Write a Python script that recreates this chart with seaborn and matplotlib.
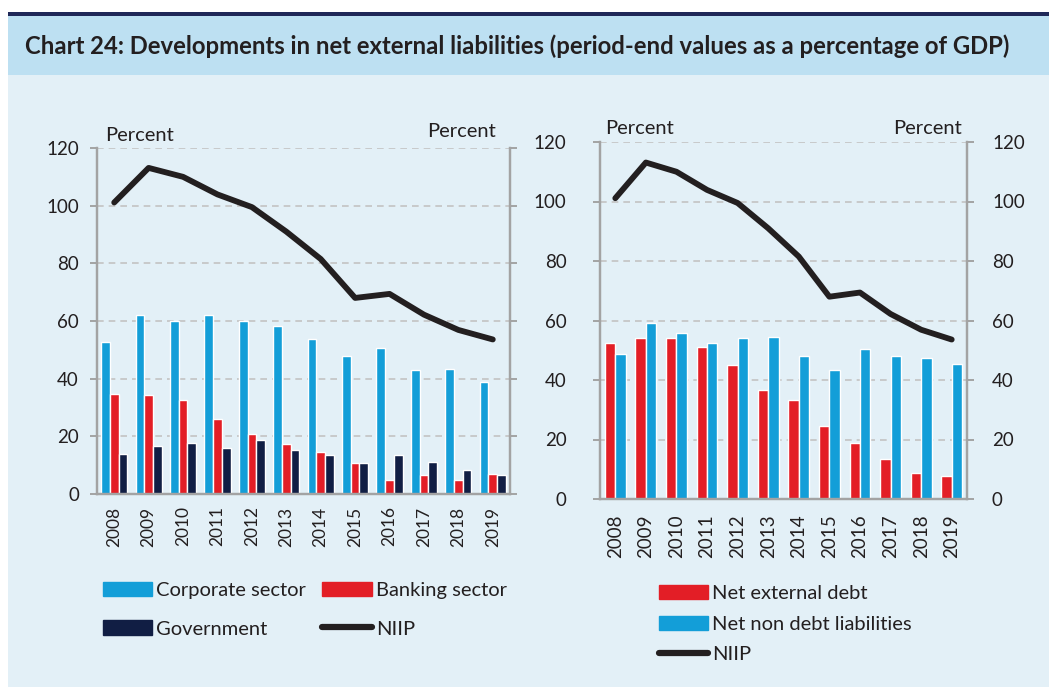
import numpy as np
import pandas as pd
import seaborn as sns
import matplotlib.pyplot as plt
from matplotlib.patches import Rectangle, Patch
from matplotlib.lines import Line2D

years = ['2008', '2009', '2010', '2011', '2012', '2013',
         '2014', '2015', '2016', '2017', '2018', '2019']
corporate = [52.6, 62.2, 59.9, 62.0, 60.0, 58.2, 53.9, 47.8, 50.5, 43.1, 43.4, 38.8]
banking = [34.6, 34.3, 32.5, 25.9, 20.8, 17.2, 14.5, 10.6, 5.0, 6.7, 4.7, 6.8]
government = [14.0, 16.6, 17.6, 15.8, 18.6, 15.4, 13.4, 10.6, 13.4, 11.2, 8.3, 6.5]
net_debt = [52.6, 54.2, 54.0, 51.1, 45.2, 36.5, 33.2, 24.5, 18.8, 13.6, 8.8, 7.6]
net_non_debt = [48.8, 59.0, 55.8, 52.4, 54.1, 54.3, 47.9, 43.3, 50.3, 48.1, 47.5, 45.5]
niip = [101.1, 113.1, 110.0, 103.9, 99.5, 91.0, 81.5, 68.0, 69.4, 62.2, 56.9, 53.6]

BLUE = '#139ed8'
RED = '#e31e26'
NAVY = '#111e44'
BLACK = '#231f20'
BG = '#e3f0f7'
BAND = '#bde0f2'
SPINE = '#a3a3a3'

sns.set_theme(style='white')
plt.rcParams['font.family'] = ['Lato', 'DejaVu Sans']
plt.rcParams['text.color'] = '#231f20'
plt.rcParams['xtick.color'] = '#231f20'
plt.rcParams['ytick.color'] = '#231f20'

W, H = 1049, 687
fig = plt.figure(figsize=(W / 100, H / 100), dpi=100, facecolor='white')

# background pieces
fig.patches.append(Rectangle((8 / W, 0), 1 - 8 / W, 1 - 75 / H, transform=fig.transFigure,
                             facecolor=BG, edgecolor='none', zorder=-10))
fig.patches.append(Rectangle((8 / W, 1 - 75 / H), 1 - 8 / W, 60 / H, transform=fig.transFigure,
                             facecolor=BAND, edgecolor='none', zorder=-10))
fig.patches.append(Rectangle((8 / W, 1 - 15.5 / H), 1 - 8 / W, 3 / H, transform=fig.transFigure,
                             facecolor='#1f2858', edgecolor='none', zorder=-10))
fig.text(25 / W, 1 - 46 / H,
         'Chart 24: Developments in net external liabilities (period-end values as a percentage of GDP)',
         fontsize=17.2, fontweight='bold', ha='left', va='center')


def style_axes(ax, ax2):
    for a in (ax, ax2):
        a.set_facecolor('none')
        a.set_ylim(0, 120)
        a.set_yticks(range(0, 121, 20))
        a.spines['top'].set_visible(False)
        for s in ('left', 'right', 'bottom'):
            a.spines[s].set_color(SPINE)
            a.spines[s].set_linewidth(1.6)
        a.tick_params(axis='y', length=5, width=1.4, color=SPINE, labelsize=13.5)
    ax.set_xlim(-0.5, 11.5)
    ax2.set_xlim(-0.5, 11.5)
    ax.yaxis.grid(True, linestyle=(0, (4, 3)), color='#c3c3c3', linewidth=1.2)
    ax.set_axisbelow(True)
    ax.set_xlabel('')
    ax.set_ylabel('')
    ax2.set_ylabel('')


# ---- left panel
ax = fig.add_axes([97 / W, 1 - 494 / H, 413 / W, 346 / H])
left_df = pd.DataFrame({'year': years * 3,
                        'value': corporate + banking + government,
                        'series': ['Corporate sector'] * 12 + ['Banking sector'] * 12 + ['Government'] * 12})
sns.barplot(data=left_df, x='year', y='value', hue='series', ax=ax, width=0.76, saturation=1,
            palette={'Corporate sector': BLUE, 'Banking sector': RED, 'Government': NAVY},
            legend=False)
ax2 = ax.twinx()
sns.lineplot(x=np.arange(12), y=niip, ax=ax2, color=BLACK, linewidth=4.2)
style_axes(ax, ax2)
ax2.set_yticklabels([])
ax.tick_params(axis='y', pad=8)
ax.tick_params(axis='x', length=0, labelsize=12.5, rotation=90, pad=9)
ax.text(0.02, 1.012, 'Percent', transform=ax.transAxes, fontsize=14.5, ha='left', va='bottom')
ax.text(0.965, 1.022, 'Percent', transform=ax.transAxes, fontsize=14.5, ha='right', va='bottom')

# ---- right panel
bx = fig.add_axes([600 / W, 1 - 499 / H, 367 / W, 357 / H])
right_df = pd.DataFrame({'year': years * 2,
                         'value': net_debt + net_non_debt,
                         'series': ['Net external debt'] * 12 + ['Net non debt liabilities'] * 12})
sns.barplot(data=right_df, x='year', y='value', hue='series', ax=bx, width=0.68, saturation=1,
            palette={'Net external debt': RED, 'Net non debt liabilities': BLUE},
            legend=False)
bx2 = bx.twinx()
sns.lineplot(x=np.arange(12), y=niip, ax=bx2, color=BLACK, linewidth=4.2)
style_axes(bx, bx2)
bx.tick_params(axis='y', pad=19)
bx2.tick_params(axis='y', pad=13)
bx.set_xticks(np.arange(-0.5, 12, 1), minor=True)
bx.tick_params(axis='x', which='minor', length=6, width=1.4, color=SPINE, direction='out')
bx.tick_params(axis='x', which='major', length=0, labelsize=13.5, rotation=90, pad=11)
bx.text(0.015, 1.015, 'Percent', transform=bx.transAxes, fontsize=14.5, ha='left', va='bottom')
bx.text(0.985, 1.015, 'Percent', transform=bx.transAxes, fontsize=14.5, ha='right', va='bottom')

# ---- legends
leg_kw = dict(frameon=False, fontsize=14.5, handlelength=2.45, handleheight=0.72,
              handletextpad=0.2, borderpad=0, borderaxespad=0)
left_handles = [Patch(color=BLUE), Patch(color=NAVY), Patch(color=RED),
                Line2D([], [], color=BLACK, linewidth=4.5)]
left_labels = ['Corporate sector', 'Government', 'Banking sector', 'NIIP']
fig.legend(left_handles, left_labels, loc='upper left', ncol=2,
           bbox_to_anchor=(103 / W, 1 - 582 / H), labelspacing=1.05, columnspacing=0.8, **leg_kw)

right_handles = [Patch(color=RED), Patch(color=BLUE), Line2D([], [], color=BLACK, linewidth=4.5)]
right_labels = ['Net external debt', 'Net non debt liabilities', 'NIIP']
fig.legend(right_handles, right_labels, loc='upper left', ncol=1,
           bbox_to_anchor=(659 / W, 1 - 585 / H), labelspacing=0.66, **leg_kw)

fig.savefig('out.png', dpi=100, facecolor='white')
